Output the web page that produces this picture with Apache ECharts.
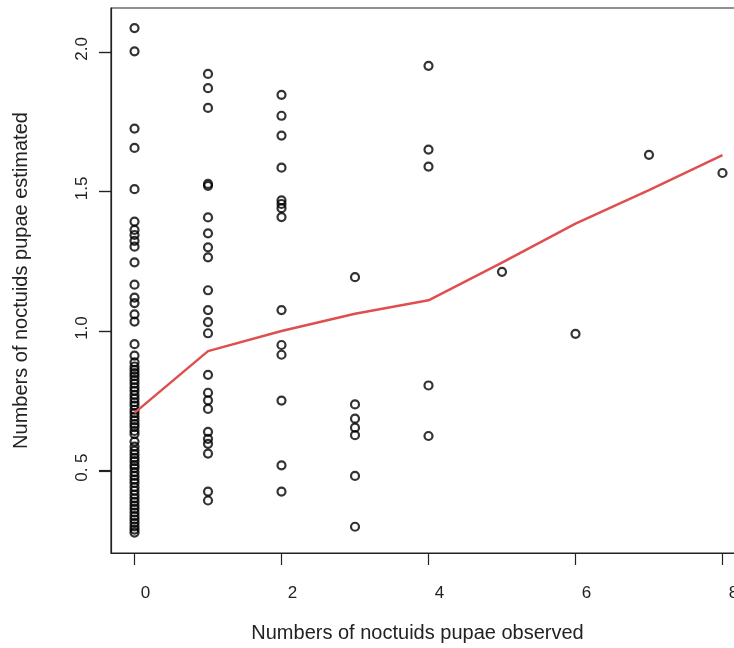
<!DOCTYPE html>
<html>
<head>
<meta charset="utf-8">
<script src="https://cdn.jsdelivr.net/npm/echarts@6/dist/echarts.min.js"></script>
<style>
html,body{margin:0;padding:0;background:#fff;overflow:hidden;width:734px;height:648px;}
#chart{width:770px;height:648px;}
</style>
</head>
<body>
<div id="chart"></div>
<script>
// Observed counts (x) and estimated values (y), one array per observed value
const obs0 = [2.085, 2.002, 1.725, 1.656, 1.508, 1.392, 1.362, 1.344, 1.323, 1.302, 1.246, 1.166, 1.120, 1.100, 1.060, 1.034, 0.953, 0.912,
  0.888, 0.873, 0.861, 0.849, 0.838, 0.825, 0.812, 0.798, 0.786, 0.771, 0.758, 0.745, 0.733, 0.718, 0.706, 0.693, 0.680, 0.667, 0.656, 0.642, 0.631,
  0.604,
  0.586, 0.572, 0.559, 0.546, 0.534, 0.520, 0.509, 0.495, 0.481, 0.468, 0.456, 0.441, 0.428, 0.414, 0.401, 0.388, 0.375, 0.363, 0.350, 0.337, 0.325, 0.313, 0.300, 0.289, 0.278];
const obs1 = [1.921, 1.870, 1.799, 1.527, 1.520, 1.407, 1.350, 1.300, 1.264, 1.146, 1.075, 1.032, 0.992, 0.843, 0.779, 0.752, 0.721, 0.639, 0.614, 0.596, 0.561, 0.425, 0.393];
const obs2 = [1.846, 1.771, 1.700, 1.585, 1.468, 1.455, 1.440, 1.408, 1.075, 0.950, 0.915, 0.751, 0.519, 0.425];
const obs3 = [1.193, 0.737, 0.686, 0.654, 0.627, 0.481, 0.299];
const obs4 = [1.950, 1.650, 1.589, 0.805, 0.624];
const obs5 = [1.212];
const obs6 = [0.990];
const obs7 = [1.631];
const obs8 = [1.566];
const columns = [obs0, obs1, obs2, obs3, obs4, obs5, obs6, obs7, obs8];

// Smoothed fit line
const fitX = [0, 1, 2, 3, 4, 5, 6, 7, 8];
const fitY = [0.707, 0.928, 1.000, 1.062, 1.110, 1.245, 1.385, 1.505, 1.630];

// Tick labels
const xTicks = [0, 2, 4, 6, 8];
const xTickLabels = ['0', '2', '4', '6', '8'];
const yTicks = [0.5, 1.0, 1.5, 2.0];
const yTickLabels = ['0. 5', '1.0', '1.5', '2.0'];

const xTitle = 'Numbers of noctuids pupae observed';
const yTitle = 'Numbers of noctuids pupae estimated';

const points = [];
columns.forEach((col, i) => col.forEach(v => points.push([i, v])));

const FONT = '"Liberation Sans", Arial, sans-serif';

const chart = echarts.init(document.getElementById('chart'), null, {renderer: 'canvas'});
chart.setOption({
  animation: false,
  backgroundColor: '#fff',
  grid: {
    left: 111, right: 24, top: 8, bottom: 93,
    show: true, borderColor: '#222', borderWidth: 1.2, backgroundColor: 'transparent'
  },
  xAxis: {
    type: 'value', min: -0.32, max: 8.32,
    name: xTitle, nameLocation: 'middle', nameGap: 70,
    nameTextStyle: {fontFamily: FONT, fontSize: 20, color: '#222', padding: [0, 22, 0, 0]},
    axisLine: {show: true, onZero: false, lineStyle: {color: '#222', width: 1.2}},
    splitLine: {show: false},
    axisTick: {show: true, length: 12, customValues: xTicks, lineStyle: {color: '#222', width: 1.2}},
    axisLabel: {
      customValues: xTicks, margin: 32, fontFamily: FONT, fontSize: 17, color: '#222',
      padding: [0, 0, 0, 22],
      formatter: v => xTickLabels[xTicks.indexOf(v)]
    }
  },
  yAxis: {
    type: 'value', min: 0.205, max: 2.157,
    position: 'left',
    name: yTitle, nameLocation: 'middle', nameGap: 80, nameRotate: 90,
    nameTextStyle: {fontFamily: FONT, fontSize: 20, color: '#222'},
    axisLine: {show: true, onZero: false, lineStyle: {color: '#222', width: 1.2}},
    splitLine: {show: false},
    axisTick: {show: true, length: 12, customValues: yTicks, lineStyle: {color: '#222', width: 1.2}},
    axisLabel: {
      customValues: yTicks, rotate: 90, margin: 20, fontFamily: FONT, fontSize: 17, color: '#222',
      padding: [0, 0, 0, 6],
      formatter: v => yTickLabels[yTicks.indexOf(v)]
    }
  },
  series: [
    {
      type: 'scatter',
      data: points,
      symbol: 'circle',
      symbolSize: 8,
      itemStyle: {color: 'rgba(0,0,0,0)', borderColor: '#000', borderWidth: 2.2},
      z: 3
    },
    {
      type: 'line',
      data: fitX.map((x, i) => [x, fitY[i]]),
      showSymbol: false,
      lineStyle: {color: '#df4f4f', width: 2.5},
      z: 4
    }
  ]
});

// Y-axis tick marks placed through the axis scale
const gridLeft = chart.convertToPixel({xAxisIndex: 0}, -0.32);
chart.setOption({
  graphic: yTicks.map(v => {
    const py = Math.round(chart.convertToPixel({yAxisIndex: 0}, v)) + 0.5;
    return {
      type: 'line', silent: true, z: 10,
      shape: {x1: gridLeft - 12, y1: py, x2: gridLeft, y2: py},
      style: {stroke: '#222', lineWidth: 1.2}
    };
  })
});
</script>
</body>
</html>
